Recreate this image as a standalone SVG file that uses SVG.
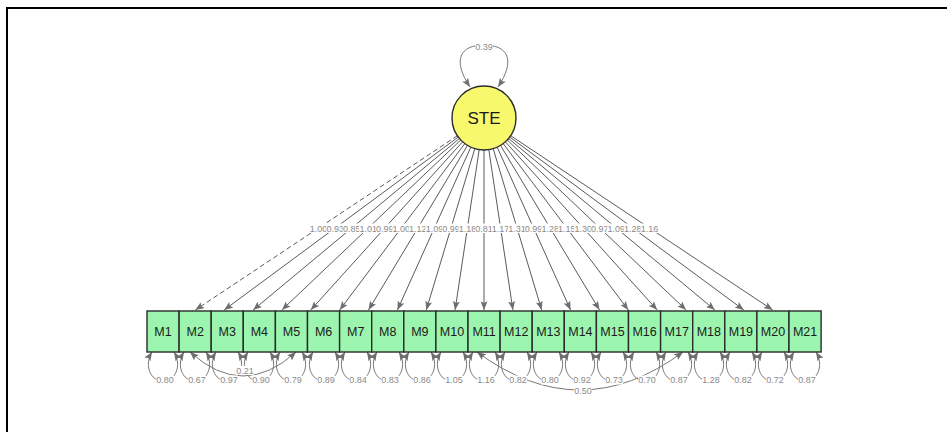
<svg xmlns="http://www.w3.org/2000/svg" width="947" height="432" viewBox="0 0 947 432">
<style>
.frame{fill:none;stroke:#000;stroke-width:2}
.ld{stroke:#5a5a5a;stroke-width:1;fill:none}
.dash{stroke-dasharray:5,3}
.rl{stroke:#777;stroke-width:1;fill:none}
.lbl{font-family:"Liberation Sans",Arial,sans-serif;font-size:9px;fill:#8a8a8a;text-anchor:middle}
.bg{fill:#fff}
.box{fill:#9cf5ae;stroke:#2a2a2a;stroke-width:1.4}
.bt{font-family:"Liberation Sans",Arial,sans-serif;font-size:12.5px;fill:#1a1a1a;text-anchor:middle}
.lat{fill:#f8f86c;stroke:#2a2a2a;stroke-width:1.4}
.lt{font-family:"Liberation Sans",Arial,sans-serif;font-size:17px;fill:#1a1a1a;text-anchor:middle}
</style>
<defs>
<marker id="ah" viewBox="0 0 10 8" refX="10" refY="4" markerWidth="9" markerHeight="7" markerUnits="userSpaceOnUse" orient="auto-start-reverse">
<path d="M0,0 L10,4 L0,8 L2,4 z" fill="#6e6e6e"/>
</marker>
</defs>
<path class="frame" d="M7,432 V8 H947"/>
<g id="connectors">
<line class="ld dash" x1="457.4" y1="135.7" x2="195.3" y2="310" marker-end="url(#ah)"/>
<line class="ld" x1="458.3" y1="137.0" x2="224.2" y2="310" marker-end="url(#ah)"/>
<line class="ld" x1="459.4" y1="138.5" x2="253.1" y2="310" marker-end="url(#ah)"/>
<line class="ld" x1="460.8" y1="140.0" x2="281.9" y2="310" marker-end="url(#ah)"/>
<line class="ld" x1="462.6" y1="141.8" x2="310.8" y2="310" marker-end="url(#ah)"/>
<line class="ld" x1="464.8" y1="143.6" x2="339.7" y2="310" marker-end="url(#ah)"/>
<line class="ld" x1="467.5" y1="145.4" x2="368.5" y2="310" marker-end="url(#ah)"/>
<line class="ld" x1="470.8" y1="147.2" x2="397.4" y2="310" marker-end="url(#ah)"/>
<line class="ld" x1="474.8" y1="148.7" x2="426.3" y2="310" marker-end="url(#ah)"/>
<line class="ld" x1="479.2" y1="149.6" x2="455.1" y2="310" marker-end="url(#ah)"/>
<line class="ld" x1="484" y1="150" x2="484" y2="310" marker-end="url(#ah)"/>
<line class="ld" x1="488.8" y1="149.6" x2="512.9" y2="310" marker-end="url(#ah)"/>
<line class="ld" x1="493.2" y1="148.7" x2="541.7" y2="310" marker-end="url(#ah)"/>
<line class="ld" x1="497.2" y1="147.2" x2="570.6" y2="310" marker-end="url(#ah)"/>
<line class="ld" x1="500.5" y1="145.4" x2="599.5" y2="310" marker-end="url(#ah)"/>
<line class="ld" x1="503.2" y1="143.6" x2="628.3" y2="310" marker-end="url(#ah)"/>
<line class="ld" x1="505.4" y1="141.8" x2="657.2" y2="310" marker-end="url(#ah)"/>
<line class="ld" x1="507.2" y1="140.0" x2="686.1" y2="310" marker-end="url(#ah)"/>
<line class="ld" x1="508.6" y1="138.5" x2="714.9" y2="310" marker-end="url(#ah)"/>
<line class="ld" x1="509.7" y1="137.0" x2="743.8" y2="310" marker-end="url(#ah)"/>
<line class="ld" x1="510.7" y1="135.7" x2="772.7" y2="310" marker-end="url(#ah)"/>
<g>
<rect class="bg" x="309.6" y="223.5" width="18" height="9.5"/><text class="lbl" x="318.6" y="231.5">1.00</text>
<rect class="bg" x="326.2" y="223.5" width="18" height="9.5"/><text class="lbl" x="335.2" y="231.5">0.93</text>
<rect class="bg" x="342.7" y="223.5" width="18" height="9.5"/><text class="lbl" x="351.7" y="231.5">0.85</text>
<rect class="bg" x="359.2" y="223.5" width="18" height="9.5"/><text class="lbl" x="368.2" y="231.5">1.01</text>
<rect class="bg" x="375.8" y="223.5" width="18" height="9.5"/><text class="lbl" x="384.8" y="231.5">0.99</text>
<rect class="bg" x="392.3" y="223.5" width="18" height="9.5"/><text class="lbl" x="401.3" y="231.5">1.00</text>
<rect class="bg" x="408.8" y="223.5" width="18" height="9.5"/><text class="lbl" x="417.8" y="231.5">1.12</text>
<rect class="bg" x="425.4" y="223.5" width="18" height="9.5"/><text class="lbl" x="434.4" y="231.5">1.09</text>
<rect class="bg" x="441.9" y="223.5" width="18" height="9.5"/><text class="lbl" x="450.9" y="231.5">0.99</text>
<rect class="bg" x="458.5" y="223.5" width="18" height="9.5"/><text class="lbl" x="467.5" y="231.5">1.18</text>
<rect class="bg" x="475" y="223.5" width="18" height="9.5"/><text class="lbl" x="484" y="231.5">0.81</text>
<rect class="bg" x="491.5" y="223.5" width="18" height="9.5"/><text class="lbl" x="500.5" y="231.5">1.17</text>
<rect class="bg" x="508.1" y="223.5" width="18" height="9.5"/><text class="lbl" x="517.1" y="231.5">1.31</text>
<rect class="bg" x="524.6" y="223.5" width="18" height="9.5"/><text class="lbl" x="533.6" y="231.5">0.99</text>
<rect class="bg" x="541.2" y="223.5" width="18" height="9.5"/><text class="lbl" x="550.2" y="231.5">1.28</text>
<rect class="bg" x="557.7" y="223.5" width="18" height="9.5"/><text class="lbl" x="566.7" y="231.5">1.15</text>
<rect class="bg" x="574.2" y="223.5" width="18" height="9.5"/><text class="lbl" x="583.2" y="231.5">1.30</text>
<rect class="bg" x="590.8" y="223.5" width="18" height="9.5"/><text class="lbl" x="599.8" y="231.5">0.97</text>
<rect class="bg" x="607.3" y="223.5" width="18" height="9.5"/><text class="lbl" x="616.3" y="231.5">1.09</text>
<rect class="bg" x="623.8" y="223.5" width="18" height="9.5"/><text class="lbl" x="632.8" y="231.5">1.28</text>
<rect class="bg" x="640.4" y="223.5" width="18" height="9.5"/><text class="lbl" x="649.4" y="231.5">1.16</text>
</g>
<path class="rl" d="M470,87 C452,60 460,45 484,45 C508,45 516,60 498,87" marker-start="url(#ah)" marker-end="url(#ah)"/>
<rect class="bg" x="475" y="42" width="18" height="9.5"/><text class="lbl" x="484" y="50">0.39</text>
<g>
<path class="rl" d="M152,352 C144,365 150,381 163,381 C176,381 182,365 174,352" marker-start="url(#ah)" marker-end="url(#ah)"/>
<path class="rl" d="M184,352 C176,365 182,381 195,381 C208,381 214,365 206,352" marker-start="url(#ah)" marker-end="url(#ah)"/>
<path class="rl" d="M216,352 C208,365 214,381 227,381 C240,381 246,365 238,352" marker-start="url(#ah)" marker-end="url(#ah)"/>
<path class="rl" d="M248,352 C240,365 246,381 259,381 C272,381 278,365 270,352" marker-start="url(#ah)" marker-end="url(#ah)"/>
<path class="rl" d="M280,352 C272,365 278,381 291,381 C304,381 310,365 302,352" marker-start="url(#ah)" marker-end="url(#ah)"/>
<path class="rl" d="M313,352 C305,365 311,381 324,381 C337,381 343,365 335,352" marker-start="url(#ah)" marker-end="url(#ah)"/>
<path class="rl" d="M345,352 C337,365 343,381 356,381 C369,381 375,365 367,352" marker-start="url(#ah)" marker-end="url(#ah)"/>
<path class="rl" d="M377,352 C369,365 375,381 388,381 C401,381 407,365 399,352" marker-start="url(#ah)" marker-end="url(#ah)"/>
<path class="rl" d="M409,352 C401,365 407,381 420,381 C433,381 439,365 431,352" marker-start="url(#ah)" marker-end="url(#ah)"/>
<path class="rl" d="M441,352 C433,365 439,381 452,381 C465,381 471,365 463,352" marker-start="url(#ah)" marker-end="url(#ah)"/>
<path class="rl" d="M473,352 C465,365 471,381 484,381 C497,381 503,365 495,352" marker-start="url(#ah)" marker-end="url(#ah)"/>
<path class="rl" d="M505,352 C497,365 503,381 516,381 C529,381 535,365 527,352" marker-start="url(#ah)" marker-end="url(#ah)"/>
<path class="rl" d="M537,352 C529,365 535,381 548,381 C561,381 567,365 559,352" marker-start="url(#ah)" marker-end="url(#ah)"/>
<path class="rl" d="M569,352 C561,365 567,381 580,381 C593,381 599,365 591,352" marker-start="url(#ah)" marker-end="url(#ah)"/>
<path class="rl" d="M601,352 C593,365 599,381 612,381 C625,381 631,365 623,352" marker-start="url(#ah)" marker-end="url(#ah)"/>
<path class="rl" d="M634,352 C626,365 632,381 645,381 C658,381 664,365 656,352" marker-start="url(#ah)" marker-end="url(#ah)"/>
<path class="rl" d="M666,352 C658,365 664,381 677,381 C690,381 696,365 688,352" marker-start="url(#ah)" marker-end="url(#ah)"/>
<path class="rl" d="M698,352 C690,365 696,381 709,381 C722,381 728,365 720,352" marker-start="url(#ah)" marker-end="url(#ah)"/>
<path class="rl" d="M730,352 C722,365 728,381 741,381 C754,381 760,365 752,352" marker-start="url(#ah)" marker-end="url(#ah)"/>
<path class="rl" d="M762,352 C754,365 760,381 773,381 C786,381 792,365 784,352" marker-start="url(#ah)" marker-end="url(#ah)"/>
<path class="rl" d="M794,352 C786,365 792,381 805,381 C818,381 824,365 816,352" marker-start="url(#ah)" marker-end="url(#ah)"/>
</g>
<path class="rl" d="M190,352 Q243,400 296,352" marker-start="url(#ah)" marker-end="url(#ah)"/>
<path class="rl" d="M477,352 Q580,428 683,352" marker-start="url(#ah)" marker-end="url(#ah)"/>
<g>
<rect class="bg" x="156" y="375.5" width="18" height="9"/><text class="lbl" x="165" y="383">0.80</text>
<rect class="bg" x="188" y="375.5" width="18" height="9"/><text class="lbl" x="197" y="383">0.67</text>
<rect class="bg" x="220" y="375.5" width="18" height="9"/><text class="lbl" x="229" y="383">0.97</text>
<rect class="bg" x="252" y="375.5" width="18" height="9"/><text class="lbl" x="261" y="383">0.90</text>
<rect class="bg" x="284" y="375.5" width="18" height="9"/><text class="lbl" x="293" y="383">0.79</text>
<rect class="bg" x="317" y="375.5" width="18" height="9"/><text class="lbl" x="326" y="383">0.89</text>
<rect class="bg" x="349" y="375.5" width="18" height="9"/><text class="lbl" x="358" y="383">0.84</text>
<rect class="bg" x="381" y="375.5" width="18" height="9"/><text class="lbl" x="390" y="383">0.83</text>
<rect class="bg" x="413" y="375.5" width="18" height="9"/><text class="lbl" x="422" y="383">0.86</text>
<rect class="bg" x="445" y="375.5" width="18" height="9"/><text class="lbl" x="454" y="383">1.05</text>
<rect class="bg" x="477" y="375.5" width="18" height="9"/><text class="lbl" x="486" y="383">1.16</text>
<rect class="bg" x="509" y="375.5" width="18" height="9"/><text class="lbl" x="518" y="383">0.82</text>
<rect class="bg" x="541" y="375.5" width="18" height="9"/><text class="lbl" x="550" y="383">0.80</text>
<rect class="bg" x="573" y="375.5" width="18" height="9"/><text class="lbl" x="582" y="383">0.92</text>
<rect class="bg" x="605" y="375.5" width="18" height="9"/><text class="lbl" x="614" y="383">0.73</text>
<rect class="bg" x="638" y="375.5" width="18" height="9"/><text class="lbl" x="647" y="383">0.70</text>
<rect class="bg" x="670" y="375.5" width="18" height="9"/><text class="lbl" x="679" y="383">0.87</text>
<rect class="bg" x="702" y="375.5" width="18" height="9"/><text class="lbl" x="711" y="383">1.28</text>
<rect class="bg" x="734" y="375.5" width="18" height="9"/><text class="lbl" x="743" y="383">0.82</text>
<rect class="bg" x="766" y="375.5" width="18" height="9"/><text class="lbl" x="775" y="383">0.72</text>
<rect class="bg" x="798" y="375.5" width="18" height="9"/><text class="lbl" x="807" y="383">0.87</text>
</g>
<rect class="bg" x="236" y="366" width="18" height="9"/><text class="lbl" x="245" y="373.5">0.21</text>
<rect class="bg" x="574" y="386" width="18" height="9"/><text class="lbl" x="583" y="393.5">0.50</text>
</g>
<g id="STE"><circle class="lat" cx="484" cy="118" r="32"/><text class="lt" x="484" y="124">STE</text></g>
<g id="M1"><rect class="box" x="147" y="311" width="32.1" height="41"/><text class="bt" x="163" y="336">M1</text></g>
<g id="M2"><rect class="box" x="179.1" y="311" width="32.1" height="41"/><text class="bt" x="195.2" y="336">M2</text></g>
<g id="M3"><rect class="box" x="211.2" y="311" width="32.1" height="41"/><text class="bt" x="227.3" y="336">M3</text></g>
<g id="M4"><rect class="box" x="243.3" y="311" width="32.1" height="41"/><text class="bt" x="259.4" y="336">M4</text></g>
<g id="M5"><rect class="box" x="275.4" y="311" width="32.1" height="41"/><text class="bt" x="291.5" y="336">M5</text></g>
<g id="M6"><rect class="box" x="307.5" y="311" width="32.1" height="41"/><text class="bt" x="323.6" y="336">M6</text></g>
<g id="M7"><rect class="box" x="339.6" y="311" width="32.1" height="41"/><text class="bt" x="355.7" y="336">M7</text></g>
<g id="M8"><rect class="box" x="371.7" y="311" width="32.1" height="41"/><text class="bt" x="387.8" y="336">M8</text></g>
<g id="M9"><rect class="box" x="403.8" y="311" width="32.1" height="41"/><text class="bt" x="419.9" y="336">M9</text></g>
<g id="M10"><rect class="box" x="435.9" y="311" width="32.1" height="41"/><text class="bt" x="452" y="336">M10</text></g>
<g id="M11"><rect class="box" x="468" y="311" width="32.1" height="41"/><text class="bt" x="484.1" y="336">M11</text></g>
<g id="M12"><rect class="box" x="500.1" y="311" width="32.1" height="41"/><text class="bt" x="516.2" y="336">M12</text></g>
<g id="M13"><rect class="box" x="532.2" y="311" width="32.1" height="41"/><text class="bt" x="548.3" y="336">M13</text></g>
<g id="M14"><rect class="box" x="564.3" y="311" width="32.1" height="41"/><text class="bt" x="580.4" y="336">M14</text></g>
<g id="M15"><rect class="box" x="596.4" y="311" width="32.1" height="41"/><text class="bt" x="612.5" y="336">M15</text></g>
<g id="M16"><rect class="box" x="628.5" y="311" width="32.1" height="41"/><text class="bt" x="644.6" y="336">M16</text></g>
<g id="M17"><rect class="box" x="660.6" y="311" width="32.1" height="41"/><text class="bt" x="676.7" y="336">M17</text></g>
<g id="M18"><rect class="box" x="692.7" y="311" width="32.1" height="41"/><text class="bt" x="708.8" y="336">M18</text></g>
<g id="M19"><rect class="box" x="724.8" y="311" width="32.1" height="41"/><text class="bt" x="740.9" y="336">M19</text></g>
<g id="M20"><rect class="box" x="756.9" y="311" width="32.1" height="41"/><text class="bt" x="773" y="336">M20</text></g>
<g id="M21"><rect class="box" x="789" y="311" width="32.1" height="41"/><text class="bt" x="805.1" y="336">M21</text></g>
</svg>
